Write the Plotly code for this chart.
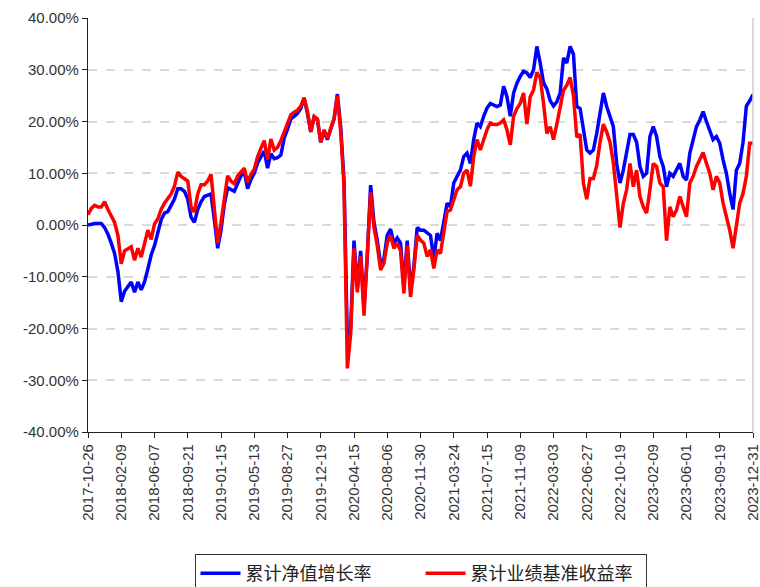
import pandas as pd
import plotly.graph_objects as go

tick_dates = ["2017-10-26", "2018-02-09", "2018-06-07", "2018-09-21", "2019-01-15",
              "2019-05-13", "2019-08-27", "2019-12-19", "2020-04-15", "2020-08-06",
              "2020-11-30", "2021-03-24", "2021-07-15", "2021-11-09", "2022-03-03",
              "2022-06-27", "2022-10-19", "2023-02-09", "2023-06-01", "2023-09-19",
              "2023-12-31"]

nav_growth = [
    0.0, 0.2, 0.3, 0.3, 0.3, -0.5, -1.8, -3.5, -5.5, -9.0,
    -14.8, -12.8, -12.0, -11.0, -13.0, -11.0, -12.5, -11.0, -8.5, -5.8,
    -4.0, -1.2, 1.0, 2.3, 2.6, 3.8, 5.0, 7.0, 7.0, 6.5,
    5.0, 1.5, 0.5, 3.0, 4.5, 5.5, 5.8, 6.0, 1.0, -4.5,
    -1.0, 4.0, 7.2, 6.8, 6.5, 8.0, 9.5, 10.3, 7.0, 8.8,
    10.0, 12.0, 13.2, 14.3, 11.0, 13.8, 12.8, 13.0, 13.5, 16.8,
    18.5, 20.5, 21.0, 21.6, 22.5, 24.5, 21.5, 18.0, 20.8, 20.3,
    16.0, 18.2, 16.5, 18.5, 20.5, 25.3, 19.0, 8.5, -22.0, -20.0,
    -3.0, -12.0, -5.0, -16.0, -6.0, 7.7, 0.5, -3.0, -7.5, -6.5,
    -2.0, -0.8, -3.5, -2.5, -3.5, -12.0, -3.0, -12.5, -8.0, -0.5,
    -1.0, -1.0, -1.5, -2.0, -6.5, -1.6, -3.0, 1.0, 4.2, 3.5,
    8.1, 9.4, 10.6, 13.2, 13.9, 11.9, 16.5, 19.7, 19.0, 21.0,
    22.6, 23.5, 23.2, 22.9, 23.2, 26.8, 24.8, 21.0, 25.5, 27.4,
    28.7, 29.7, 29.4, 28.5, 30.0, 34.5, 31.3, 27.5, 26.3, 24.0,
    23.0, 23.8, 25.5, 32.3, 31.3, 34.5, 33.0, 22.9, 22.5, 18.4,
    14.5, 13.9, 14.5, 17.7, 21.6, 25.5, 22.9, 21.0, 19.0, 11.9,
    8.1, 10.6, 14.5, 17.5, 17.5, 16.0, 11.3, 9.4, 10.0, 17.1,
    19.0, 17.1, 13.2, 11.3, 7.4, 10.0, 9.4, 10.6, 11.9, 9.4,
    8.7, 13.9, 16.5, 19.0, 20.3, 21.9, 20.0, 18.4, 16.5, 17.1,
    15.8, 12.6, 10.0, 6.1, 3.0, 10.6, 11.9, 16.0, 23.0, 24.0,
    25.2]

benchmark = [
    2.0, 3.2, 3.8, 3.5, 3.5, 4.5, 3.0, 1.8, 0.5, -2.0,
    -7.5, -5.0, -4.5, -4.2, -6.8, -4.5, -6.2, -3.5, -1.0, -2.8,
    0.2, 1.2, 3.0, 4.2, 5.2, 6.0, 7.5, 10.2, 9.4, 9.0,
    8.5, 3.5, 2.5, 6.0, 7.8, 7.8, 8.5, 9.8, 2.5, -3.5,
    0.5, 4.5, 9.5, 8.5, 8.0, 9.5, 10.2, 11.0, 8.3, 9.8,
    10.8, 13.2, 14.8, 16.3, 12.6, 16.6, 14.5, 15.0, 16.3, 18.0,
    19.5, 21.3, 21.8, 22.2, 23.0, 24.6, 22.0, 18.0, 21.0, 20.5,
    16.0, 18.4, 16.8, 18.7, 20.5, 25.0, 18.0, 7.5, -27.7, -21.0,
    -4.5, -13.0, -6.0, -17.5, -7.0, 6.3, -0.5, -4.0, -8.7, -7.4,
    -3.5, -2.0, -4.5, -3.5, -5.0, -13.2, -4.0, -13.9, -8.7, -2.0,
    -2.9, -3.5, -6.1, -4.8, -8.4, -4.8, -5.5, -1.0, 2.6, 2.9,
    4.8, 6.8, 7.4, 10.0, 10.6, 7.5, 13.2, 16.5, 14.5, 16.5,
    18.4, 19.7, 19.4, 19.4, 19.7, 20.3, 18.4, 15.5, 21.0, 22.5,
    23.5, 25.5, 19.5, 24.8, 26.1, 29.5, 28.5, 23.5, 17.7, 19.0,
    16.5, 19.5, 23.0, 26.0, 27.0, 28.5, 25.0, 17.0, 17.5, 8.0,
    5.0, 9.0, 9.0, 11.5, 16.0, 19.5, 18.0, 16.0, 12.0, 5.0,
    -0.5, 4.2, 6.8, 11.9, 7.4, 10.6, 5.5, 3.5, 2.3, 6.8,
    11.9, 11.3, 8.1, 7.4, -3.0, 3.5, 1.6, 2.9, 5.5, 3.5,
    1.6, 8.1, 9.4, 11.3, 12.6, 14.0, 11.9, 10.0, 6.8, 9.4,
    8.1, 4.2, 1.6, -1.0, -4.5, 0.3, 4.2, 6.1, 9.4, 15.8,
    15.8]

y_ticks = [-40, -30, -20, -10, 0, 10, 20, 30, 40]
y_tick_text = [f"{v:.2f}%" for v in y_ticks]

# category labels: trading-date positions between the labelled dates
dates = []
for a, b in zip(tick_dates[:-1], tick_dates[1:]):
    rng = pd.date_range(a, b, periods=11)[:-1]
    dates.extend(d.strftime("%Y-%m-%d") for d in rng)
dates.append(tick_dates[-1])

fig = go.Figure()
fig.add_trace(go.Scatter(x=dates, y=nav_growth, mode="lines", name="累计净值增长率",
                         line=dict(color="#0000ff", width=3.5)))
fig.add_trace(go.Scatter(x=dates, y=benchmark, mode="lines", name="累计业绩基准收益率",
                         line=dict(color="#ff0000", width=3.5)))

fig.update_layout(
    width=760, height=587,
    margin=dict(l=88, r=7, t=18, b=155, autoexpand=False),
    paper_bgcolor="white", plot_bgcolor="white",
    font=dict(family="Liberation Sans, Arial, sans-serif", size=14, color="#333333"),
    showlegend=True,
    legend=dict(orientation="h", x=0.5, xanchor="center", y=-0.295, yanchor="top",
                bordercolor="#333333", borderwidth=1,
                font=dict(family="Noto Sans CJK SC", size=18, color="#222222"),
                itemwidth=40, entrywidth=170),
)
fig.update_xaxes(type="category", range=[0, len(dates) - 1], automargin=False,
                 tickmode="array", tickvals=tick_dates, ticktext=tick_dates,
                 tickangle=-90, showgrid=False, showline=True, linecolor="#222222",
                 linewidth=1.2, ticks="outside", ticklen=5, tickcolor="#222222",
                 ticklabeloverflow="allow",
                 tickfont=dict(size=15, color="#333333"), zeroline=False)
fig.update_yaxes(range=[-40, 40], tickmode="array", tickvals=y_ticks, ticktext=y_tick_text,
                 automargin=False,
                 showgrid=True, gridcolor="#d9d9d9", griddash="dash", gridwidth=1.5,
                 showline=True, linecolor="#222222", linewidth=1.2, ticks="outside",
                 ticklen=5, tickcolor="#222222", zeroline=False,
                 tickfont=dict(size=15, color="#333333"))
fig.add_shape(type="line", xref="paper", yref="paper", x0=1, x1=1, y0=0, y1=1,
              line=dict(color="#cccccc", width=1.5))

fig.write_html("out.html", config={"displayModeBar": False},
               post_script="document.body.style.margin='0';document.body.style.overflow='hidden';")
